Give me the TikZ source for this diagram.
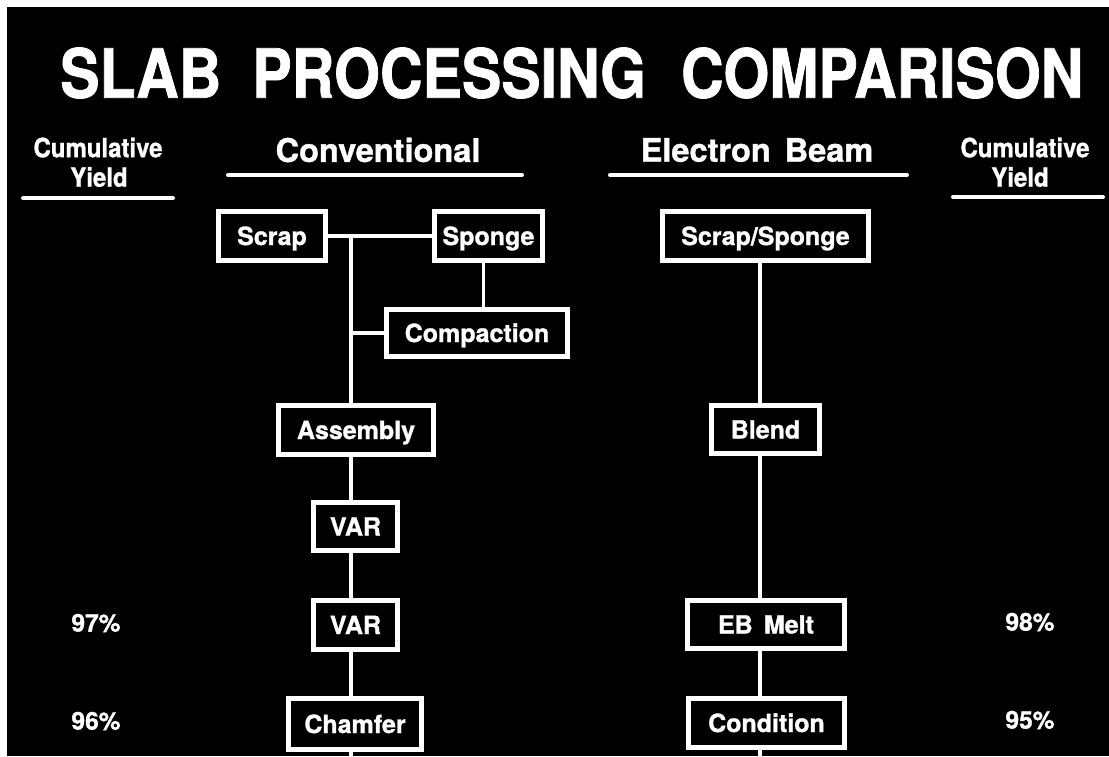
\documentclass[tikz,border=0pt]{standalone}
\usepackage{fontspec}
\setmainfont{TeX Gyre Heros}[BoldFeatures={FakeBold=1.2}]
\begin{document}
\begin{tikzpicture}[x=1pt,y=-1pt,
  box/.style={draw=white, line width=4.8pt, inner sep=0pt, minimum height=49.5pt,
    text=white, text height=18pt, text depth=0pt,
    font=\bfseries\fontsize{25}{30}\selectfont},
  conn/.style={draw=white, line width=3.2pt},
  uline/.style={draw=white, line width=4pt, line cap=round},
  head/.style={text=white, inner sep=0pt, font=\bfseries\fontsize{32.5}{36}\selectfont},
  cum/.style={text=white, inner sep=0pt, font=\bfseries\fontsize{24}{28}\selectfont},
  pct/.style={text=white, inner sep=0pt, font=\bfseries\fontsize{24.5}{28}\selectfont}]
\useasboundingbox (0,0) rectangle (1109,756);
\fill[white] (0,0) rectangle (1109,756);
\fill[black] (7,7) rectangle (1109,756);

% title
\node[text=white, inner sep=0pt, anchor=west, font=\bfseries\fontsize{59}{62}\selectfont]
  (title) at (60,73) {\scalebox{1}[1.15]{SLAB\hspace{31pt}PROCESSING\hspace{35pt}COMPARISON}};

% column headings
\node[cum] (cuml) at (98,147.5) {\scalebox{1}[1.1]{Cumulative}};
\node[cum] (yldl) at (99,177) {\scalebox{1}[1.1]{Yield}};
\node[head] (conv) at (378,150) {Conventional};
\node[head] (ebeam) at (757,150) {Electron\hspace{14pt}Beam};
\node[cum] (cumr) at (1025,147.5) {\scalebox{1}[1.1]{Cumulative}};
\node[cum] (yldr) at (1020,177) {\scalebox{1}[1.1]{Yield}};

\coordinate (ul1a) at (23,198);  \coordinate (ul1b) at (173,198);
\coordinate (ul2a) at (228,175); \coordinate (ul2b) at (522,175);
\coordinate (ul3a) at (610,175); \coordinate (ul3b) at (907,175);
\coordinate (ul4a) at (953,197); \coordinate (ul4b) at (1103,197);
\draw[uline] (ul1a) -- (ul1b);
\draw[uline] (ul2a) -- (ul2b);
\draw[uline] (ul3a) -- (ul3b);
\draw[uline] (ul4a) -- (ul4b);

% conventional boxes
\node[box, minimum width=107.5pt] (scrap) at (272,236) {Scrap};
\node[box, minimum width=108.5pt] (sponge) at (488.5,236) {Sponge};
\node[box, minimum width=181.5pt, minimum height=47.5pt] (compaction) at (477,333) {Compaction};
\node[box, minimum width=155.5pt] (assembly) at (356,430) {Assembly};
\node[box, minimum width=84.5pt, minimum height=48.5pt] (var1) at (355.5,526.5) {VAR};
\node[box, minimum width=84.5pt] (var2) at (355.5,625) {VAR};
\node[box, minimum width=133.5pt, minimum height=51.5pt] (chamfer) at (355,724) {Chamfer};

% electron beam boxes
\node[box, minimum width=206.5pt] (ss) at (765.5,236) {Scrap/Sponge};
\node[box, minimum width=108.5pt, minimum height=48.5pt] (blend) at (765.5,429.5) {Blend};
\node[box, minimum width=157.5pt, minimum height=48.5pt] (ebmelt) at (766,624.5) {EB\hspace{0.45em}Melt};
\node[box, minimum width=156.5pt] (condition) at (766.5,723) {Condition};

% yields
\node[pct] (y97) at (96,623) {97\%};
\node[pct] (y96) at (96,721) {96\%};
\node[pct] (y98) at (1030,622) {98\%};
\node[pct] (y95) at (1030,720) {95\%};

% connectors, conventional
\coordinate (lt) at (351,236);
\coordinate (lbot) at (351,756);
\draw[conn] (scrap.east) -- (sponge.west);
\draw[conn] (lt) -- (lt |- assembly.north);
\draw[conn] (compaction.west) -- (compaction.west -| lt);
\draw[conn] ([xshift=-5pt]sponge.south) -- ([xshift=-5pt]sponge.south |- compaction.north);
\draw[conn] (lt |- assembly.south) -- (lt |- var1.north);
\draw[conn] (lt |- var1.south) -- (lt |- var2.north);
\draw[conn] (lt |- var2.south) -- (lt |- chamfer.north);
\draw[conn] (lt |- chamfer.south) -- (lbot);

% connectors, electron beam
\coordinate (rt) at (760,236);
\coordinate (rbot) at (760,756);
\draw[conn] (rt |- ss.south) -- (rt |- blend.north);
\draw[conn] (rt |- blend.south) -- (rt |- ebmelt.north);
\draw[conn] (rt |- ebmelt.south) -- (rt |- condition.north);
\draw[conn] (rt |- condition.south) -- (rbot);
\end{tikzpicture}
\end{document}
